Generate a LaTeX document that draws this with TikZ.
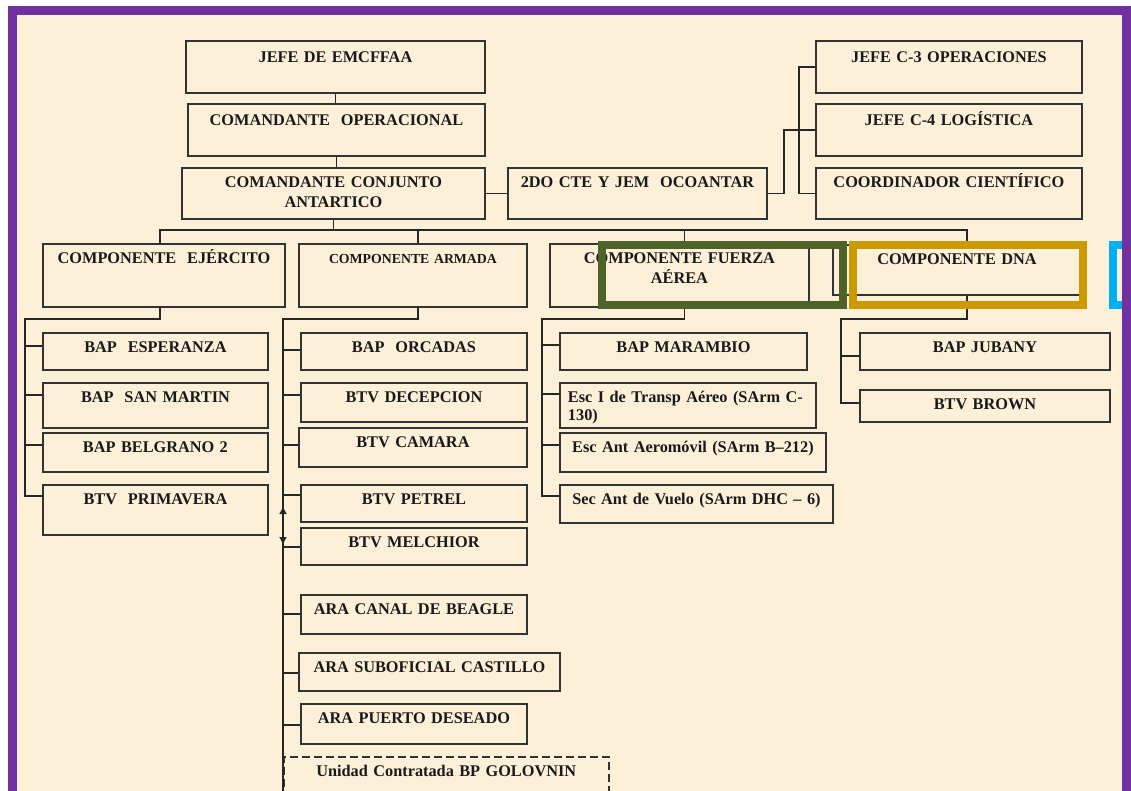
\documentclass[tikz,border=0pt]{standalone}
\usepackage{fontspec}
\setmainfont{Liberation Serif}
\usetikzlibrary{arrows.meta}

\definecolor{cream}{HTML}{FDF0D9}
\definecolor{framepurple}{HTML}{7030A0}
\definecolor{markgreen}{HTML}{4F6228}
\definecolor{markgold}{HTML}{CC9900}
\definecolor{markcyan}{HTML}{00B0F0}

\tikzset{
  unit/.style 2 args={draw=black!80, line width=1.9pt, anchor=north west, inner xsep=0pt, inner ysep=4pt,
    text width=#1, text height=16pt, text depth=#2, align=center, text=black!90,
    font=\bfseries\fontsize{16.3}{20}\selectfont},
  toprow/.style={text height=18pt},
  link/.style={draw=black!85, line width=1.6pt},
  hilite/.style={line width=8pt}
}

\begin{document}
\begin{tikzpicture}[x=1pt,y=-1pt]
\clip (0,0) rectangle (1131,790);
\fill[white] (0,0) rectangle (1131,790);
\fill[cream] (12,10) rectangle (1126.5,795);

% mando
\node[unit={299pt}{26pt}, toprow] (jefe) at (185,40) {JEFE DE EMCFFAA};
\node[unit={297pt}{26pt}, toprow] (comop) at (187,103) {COMANDANTE~~OPERACIONAL};
\node[unit={303pt}{27pt}] (comcj) at (181,167) {COMANDANTE CONJUNTO\\ANTARTICO};
\node[unit={259pt}{27pt}] (segundo) at (507,167) {2DO CTE Y JEM~~OCOANTAR};
\node[unit={266pt}{26pt}, toprow] (jefec3) at (815,40) {JEFE C-3 OPERACIONES};
\node[unit={266pt}{26pt}, toprow] (jefec4) at (815,103) {JEFE C-4 LOGÍSTICA};
\node[unit={266pt}{27pt}] (coord) at (815,167) {COORDINADOR CIENTÍFICO};

% componentes
\node[unit={242pt}{39pt}] (ejercito) at (42,243) {COMPONENTE~~EJÉRCITO};
\node[unit={228pt}{39pt}, font=\bfseries\fontsize{13.8}{16}\selectfont] (armada) at (298,243) {COMPONENTE ARMADA};
\node[unit={259pt}{39pt}] (fuerza) at (549,243) {COMPONENTE FUERZA\\AÉREA};
\node[unit={248pt}{26pt}] (dna) at (832,244) {COMPONENTE DNA};

% ejercito
\node[unit={225pt}{13pt}] (esp) at (42,332) {BAP~~ESPERANZA};
\node[unit={225pt}{21pt}] (sanmartin) at (42,382) {BAP~~SAN MARTIN};
\node[unit={225pt}{15pt}] (belgrano) at (42,432) {BAP BELGRANO 2};
\node[unit={225pt}{26pt}] (primavera) at (42,484) {BTV~~PRIMAVERA};

% armada
\node[unit={226pt}{13pt}] (orcadas) at (300,332) {BAP~~ORCADAS};
\node[unit={226pt}{15pt}] (decepcion) at (300,382) {BTV DECEPCION};
\node[unit={228pt}{15pt}] (camara) at (298,427) {BTV CAMARA};
\node[unit={226pt}{13pt}] (petrel) at (300,484) {BTV PETREL};
\node[unit={226pt}{13pt}] (melchior) at (300,527) {BTV MELCHIOR};
\node[unit={226pt}{15pt}] (beagle) at (300,594) {ARA CANAL DE BEAGLE};
\node[unit={261pt}{14pt}] (castillo) at (298,652) {ARA SUBOFICIAL CASTILLO};
\node[unit={226pt}{16pt}] (deseado) at (300,703) {ARA PUERTO DESEADO};
\node[unit={325pt}{36pt}, dash pattern=on 8pt off 4pt, line width=1.5pt] (golovnin) at (283,756) {Unidad Contratada BP GOLOVNIN};

% fuerza aerea
\node[unit={247pt}{13pt}] (marambio) at (559,332) {BAP MARAMBIO};
\node[unit={240pt}{21pt}, inner xsep=8pt, align=left, font=\bfseries\fontsize{16.3}{18}\selectfont] (esci) at (559,382) {Esc I de Transp Aéreo (SArm C-\\130)};
\node[unit={266pt}{15pt}] (escant) at (559,432) {Esc Ant Aeromóvil (SArm B–212)};
\node[unit={273pt}{14pt}] (sec) at (559,484) {Sec Ant de Vuelo (SArm DHC – 6)};

% dna
\node[unit={250pt}{13pt}] (jubany) at (859,332) {BAP JUBANY};
\node[unit={250pt}{8pt}] (brown) at (859,389) {BTV BROWN};

% enlaces del mando
\draw[link] (jefe.south) -- (jefe.south |- comop.north);
\draw[link] (comop.south) -- (comop.south |- comcj.north);
\draw[link] (comcj.east) -- (segundo.west);
\draw[link] (segundo.east) -- ++(16,0) |- (jefec4.west);
\draw[link] (jefec3.west) -- ++(-16,0) |- (coord.west);

\coordinate (bus) at (0,230);
\draw[link] (comcj.south) -- (comcj.south |- bus);
\draw[link] ([xshift=-4pt]ejercito.north) |- ([xshift=10pt]dna.north |- bus) -- ([xshift=10pt]dna.north);
\draw[link] ([xshift=5pt]armada.north) -- ([xshift=5pt]armada.north |- bus);
\draw[link] ([xshift=5pt]fuerza.north) -- ([xshift=5pt]fuerza.north |- bus);

% ejercito
\coordinate (ejrail) at (25,319);
\draw[link] ([xshift=-4pt]ejercito.south) |- (ejrail) |- ([yshift=-12pt]primavera.north west);
\foreach \n/\o in {esp/14,sanmartin/13,belgrano/13}
  \draw[link] ([yshift=-\o pt]\n.north west) -- ([yshift=-\o pt]\n.north west -| ejrail);

% armada
\coordinate (armrail) at (283,319);
\draw[link] ([xshift=5pt]armada.south) |- (armrail) -- (golovnin.south west);
\foreach \n/\o in {orcadas/18,decepcion/13,camara/18,petrel/11,melchior/20,beagle/20,castillo/21,deseado/22}
  \draw[link] ([yshift=-\o pt]\n.north west) -- ([yshift=-\o pt]\n.north west -| armrail);
\coordinate (tipup) at (283,506);
\coordinate (tipdown) at (283,545);
\draw[link, {Latex[length=8pt,width=8pt]}-{Latex[length=8pt,width=8pt]}] (tipup) -- (tipdown);

% fuerza aerea
\coordinate (fzrail) at (542,319);
\draw[link] ([xshift=5pt]fuerza.south) |- (fzrail) |- ([yshift=-12pt]sec.north west);
\foreach \n/\o in {marambio/13,esci/12,escant/13}
  \draw[link] ([yshift=-\o pt]\n.north west) -- ([yshift=-\o pt]\n.north west -| fzrail);

% dna
\coordinate (dnarail) at (841,319);
\draw[link] ([xshift=10pt]dna.south) |- (dnarail) |- ([yshift=-14pt]brown.north west);
\draw[link] ([yshift=-24pt]jubany.north west) -- ([yshift=-24pt]jubany.north west -| dnarail);

% marcas
\draw[hilite, markgreen] (602,245) rectangle (842.5,304.5);
\draw[hilite, markgold] (852.5,245) rectangle (1083,304.5);
\draw[hilite, markcyan] (1113,245) rectangle (1160,304.5);

\draw[framepurple, line width=9pt] (12,10) rectangle (1126.5,795);
\end{tikzpicture}
\end{document}
